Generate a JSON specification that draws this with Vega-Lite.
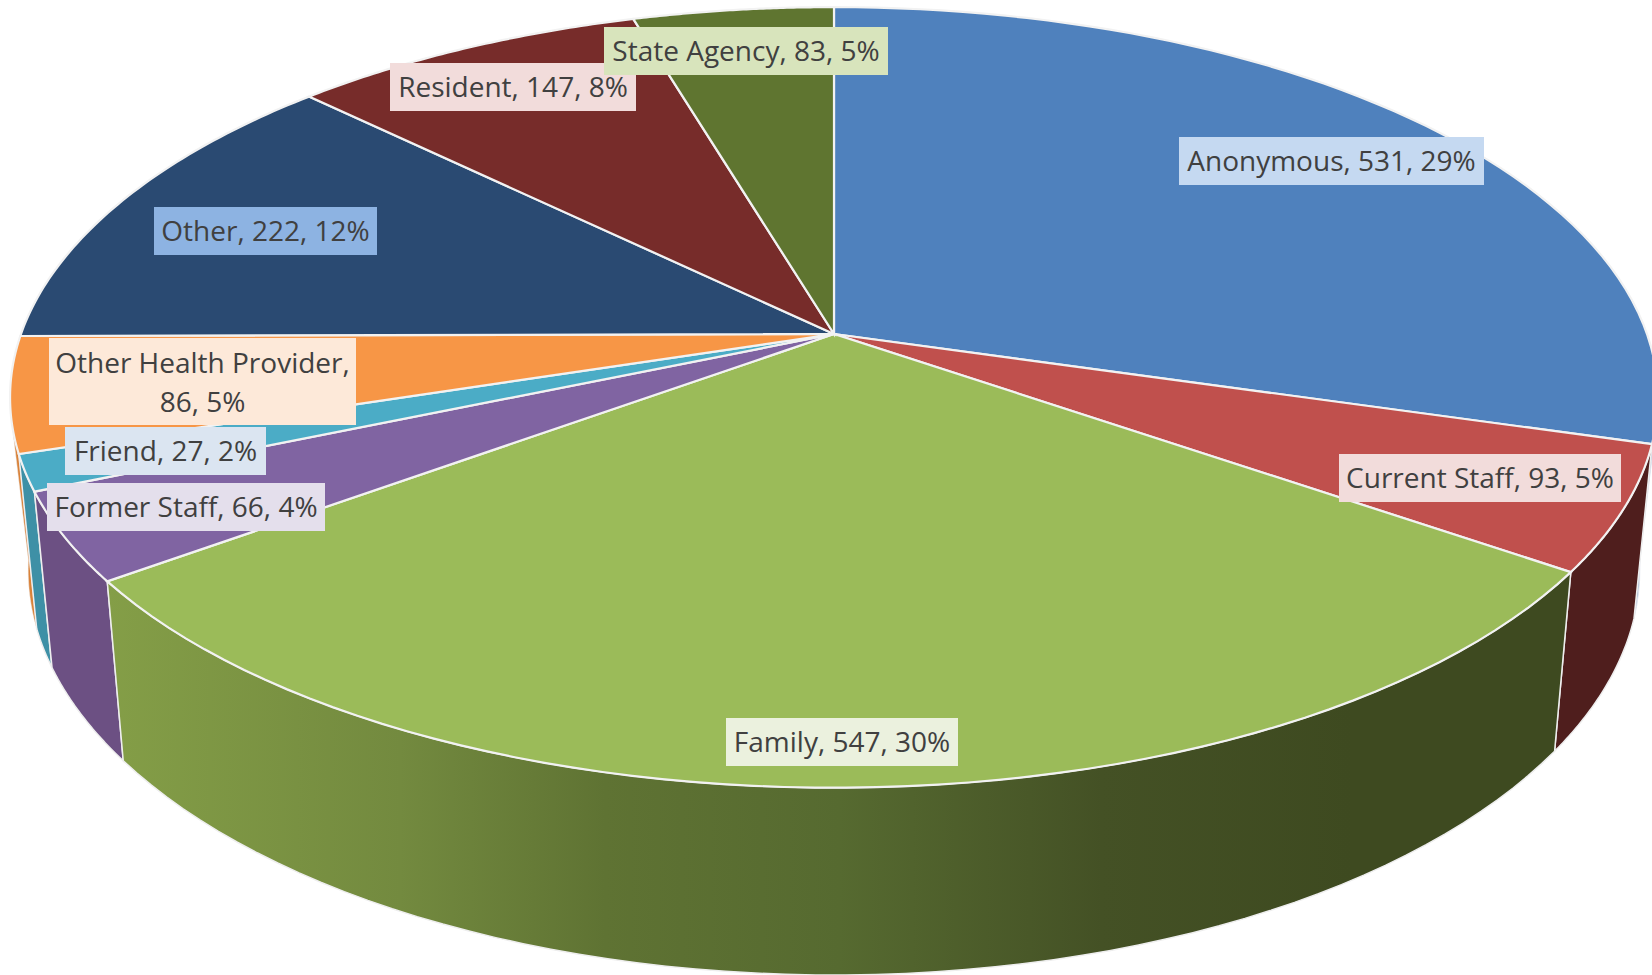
{"$schema":"https://vega.github.io/schema/vega-lite/v6.json","width":1652,"height":975,"padding":0,"autosize":{"type":"none"},"background":"white","view":{"stroke":null},"config":{"axis":{"domain":false}},
"data":{"values":[{"source":"Anonymous","count":531,"percent":29},{"source":"Current Staff","count":93,"percent":5},{"source":"Family","count":547,"percent":30},{"source":"Former Staff","count":66,"percent":4},{"source":"Friend","count":27,"percent":2},{"source":"Other Health Provider","count":86,"percent":5},{"source":"Other","count":222,"percent":12},{"source":"Resident","count":147,"percent":8},{"source":"State Agency","count":83,"percent":5}]},
"transform":[{"joinaggregate":[{"op":"sum","field":"count","as":"total"}]},{"stack":"count","as":["s0","s1"]}],
"encoding":{},
"layer":[
{"transform":[{"calculate":"sequence(0,122)","as":"steps"},{"flatten":["steps"],"as":["t"]},{"calculate":"2*PI*(datum.s0+(datum.s1-datum.s0)*(datum.t<=60?datum.t:121-datum.t)/60)/datum.total","as":"a0"},{"calculate":"datum.source==='Other Health Provider'?min(datum.a0,PI/180*(datum.t<=60?258:262)):datum.source==='Anonymous'?max(datum.a0,PI/180*(datum.t<=60?102:98)):datum.a0","as":"a"},{"calculate":"-cos(datum.a)","as":"v"},{"calculate":"(datum.t<=60?1:0.978)*813*sin(datum.a)/(1-0.1625*datum.v)","as":"px"},{"calculate":"(datum.t<=60?380:394.5)*datum.v/(1-0.1625*datum.v)+(datum.t<=60?0:170)","as":"py"}],
"encoding":{"x":{"field":"px","type":"quantitative","scale":{"domain":[-834,818]},"axis":null},"y":{"field":"py","type":"quantitative","scale":{"domain":[641,-334]},"axis":null},"order":{"field":"t","type":"quantitative"}},
"layer":[
{"transform":[{"filter":"datum.source==='Anonymous'"}],"mark":{"type":"line","interpolate":"linear-closed","fill":"#9fb3cf","stroke":"#dfe5ee","strokeWidth":1}},
{"transform":[{"filter":"datum.source==='Other Health Provider'"}],"mark":{"type":"line","interpolate":"linear-closed","fill":"#d98239","stroke":"#eeeeee","strokeWidth":0.5}},
{"transform":[{"filter":"datum.source==='Friend'"}],"mark":{"type":"line","interpolate":"linear-closed","fill":"#3e90a6","stroke":"#eeeeee","strokeWidth":1.5}},
{"transform":[{"filter":"datum.source==='Former Staff'"}],"mark":{"type":"line","interpolate":"linear-closed","fill":"#6c5083","stroke":"#eeeeee","strokeWidth":1.5}},
{"transform":[{"filter":"datum.source==='Current Staff'"}],"mark":{"type":"line","interpolate":"linear-closed","fill":"#4f1e1d","stroke":"#eeeeee","strokeWidth":1.5}},
{"transform":[{"filter":"datum.source==='Family'"}],"mark":{"type":"line","interpolate":"linear-closed","stroke":"#eeeeee","strokeWidth":1.5,"fill":{"gradient":"linear","x1":0,"x2":1,"y1":0,"y2":0,"stops":[{"offset":0,"color":"#849e47"},{"offset":0.2,"color":"#738a3f"},{"offset":0.34,"color":"#5f7333"},{"offset":0.5,"color":"#566a30"},{"offset":0.68,"color":"#445125"},{"offset":0.85,"color":"#3e4a20"},{"offset":1,"color":"#3e4a20"}]}}}
]},
{"transform":[{"calculate":"sequence(0,62)","as":"steps"},{"flatten":["steps"],"as":["t"]},{"calculate":"2*PI*(datum.s0+(datum.s1-datum.s0)*min(datum.t,60)/60)/datum.total","as":"a"},{"calculate":"datum.t==61?0:1","as":"r"},{"calculate":"-cos(datum.a)","as":"v"},{"calculate":"datum.r*813*sin(datum.a)/(1-0.1625*datum.v)","as":"px"},{"calculate":"datum.r*380*datum.v/(1-0.1625*datum.v)","as":"py"}],
"mark":{"type":"line","interpolate":"linear-closed","stroke":"#f2f2f2","strokeWidth":2.2},
"encoding":{"x":{"field":"px","type":"quantitative","scale":{"domain":[-834,818]},"axis":null},"y":{"field":"py","type":"quantitative","scale":{"domain":[641,-334]},"axis":null},"order":{"field":"t","type":"quantitative"},"fill":{"field":"source","type":"nominal","legend":null,"scale":{"domain":["Anonymous","Current Staff","Family","Former Staff","Friend","Other Health Provider","Other","Resident","State Agency"],"range":["#4f81bd","#c0504d","#9bbb59","#8064a2","#4bacc6","#f79646","#2a4a72","#772c2a","#5f7530"]}}}},
{"transform":[{"calculate":"{'Anonymous':[345,650,-197,-149],'Current Staff':[505,787,120,168],'Family':[-108,124,384,432],'Former Staff':[-787,-509,149,197],'Friend':[-769,-568,93,141],'Other Health Provider':[-785,-478,4,91],'Other':[-680,-457,-127,-79],'Resident':[-444,-198,-271,-223],'State Agency':[-230,54,-307,-259]}[datum.source]","as":"box"},{"calculate":"datum.box[0]","as":"bx0"},{"calculate":"datum.box[1]","as":"bx1"},{"calculate":"datum.box[2]","as":"by0"},{"calculate":"datum.box[3]","as":"by1"},{"calculate":"(datum.bx0+datum.bx1)/2","as":"cx"},{"calculate":"(datum.by0+datum.by1)/2+(datum.source==='Other Health Provider'?-17:2)","as":"cy"},{"calculate":"datum.source==='Other Health Provider'?[datum.source+',',datum.count+', '+datum.percent+'%']:datum.source+', '+datum.count+', '+datum.percent+'%'","as":"label"}],
"layer":[
{"mark":{"type":"rect"},"encoding":{"x":{"field":"bx0","type":"quantitative","scale":{"domain":[-834,818]},"axis":null},"x2":{"field":"bx1"},"y":{"field":"by0","type":"quantitative","scale":{"domain":[641,-334]},"axis":null},"y2":{"field":"by1"},"fill":{"field":"source","type":"nominal","legend":null,"scale":{"domain":["Anonymous","Current Staff","Family","Former Staff","Friend","Other Health Provider","Other","Resident","State Agency"],"range":["#c5d9f1","#f2dcdb","#ebf1de","#e4dfec","#dbe5f1","#fde9d9","#8db3e2","#f2dcdb","#d8e4bc"]}}}},
{"mark":{"type":"text","font":"Open Sans","fontSize":28,"color":"#404040","align":"center","baseline":"middle","lineHeight":39},"encoding":{"x":{"field":"cx","type":"quantitative","scale":{"domain":[-834,818]},"axis":null},"y":{"field":"cy","type":"quantitative","scale":{"domain":[641,-334]},"axis":null},"text":{"field":"label"}}}
]}
],
"resolve":{"scale":{"fill":"independent"}}}
